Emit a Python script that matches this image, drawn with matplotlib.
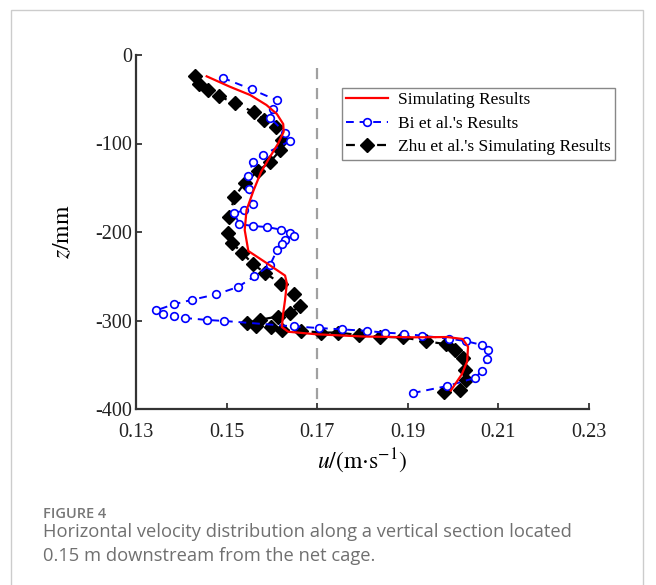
import matplotlib
matplotlib.use("Agg")
import matplotlib.pyplot as plt
from matplotlib.patches import Rectangle

# ---------------- data ----------------
sim_u = [0.1456, 0.1507, 0.1552, 0.1588, 0.1611, 0.1625, 0.1626, 0.1614, 0.1596, 0.1576,
         0.1559, 0.1544, 0.1540, 0.1548, 0.1588, 0.1611, 0.1629, 0.1633, 0.1629, 0.1625,
         0.1622, 0.1636, 0.1699, 0.1802, 0.1913, 0.1987, 0.2021, 0.2033, 0.2031, 0.2019, 0.1995]
sim_z = [-24.1, -35.8, -45.2, -56.5, -66.7, -78.0, -86.7, -99.8, -114.9, -132.2,
         -153.7, -175.2, -197.8, -221.5, -235.0, -243.0, -249.2, -258.0, -276.9, -291.5,
         -307.4, -312.7, -315.6, -318.1, -319.0, -318.7, -320.9, -329.6, -346.3, -361.0, -379.1]

bi_u = [0.1491, 0.1555, 0.1611, 0.1602, 0.1596, 0.1629, 0.1641, 0.1581, 0.1558, 0.1548,
        0.1550, 0.1558, 0.1539, 0.1517, 0.1528, 0.1558, 0.1589, 0.1621, 0.1640, 0.1648,
        0.1630, 0.1622, 0.1611, 0.1596, 0.1561, 0.1525, 0.1477, 0.1424, 0.1383, 0.1345,
        0.1360, 0.1383, 0.1409, 0.1457, 0.1494, 0.1649, 0.1704, 0.1754, 0.1809, 0.1850,
        0.1891, 0.1931, 0.1990, 0.2029, 0.2064, 0.2076, 0.2074, 0.2063, 0.2049, 0.1987, 0.1912]
bi_z = [-25.7, -38.8, -51.2, -61.4, -70.9, -87.8, -96.8, -112.7, -120.9, -136.4,
        -151.8, -168.4, -175.2, -178.9, -191.0, -193.2, -194.4, -197.4, -200.6, -204.5,
        -208.7, -213.0, -220.7, -237.3, -250.2, -262.2, -270.4, -276.6, -281.7, -288.5,
        -293.2, -294.9, -297.2, -299.4, -300.5, -306.7, -308.5, -310.0, -311.7, -313.8,
        -314.8, -317.2, -320.4, -323.4, -327.7, -333.0, -343.9, -356.9, -364.8, -374.0, -381.9]

zhu_u = [0.1431, 0.1440, 0.1459, 0.1483, 0.1518, 0.1560, 0.1583, 0.1609, 0.1622, 0.1618,
         0.1596, 0.1569, 0.1540, 0.1517, 0.1506, 0.1504, 0.1513, 0.1535, 0.1558, 0.1584,
         0.1621, 0.1649, 0.1662, 0.1641, 0.1613, 0.1574, 0.1544, 0.1565, 0.1597, 0.1622,
         0.1664, 0.1708, 0.1745, 0.1792, 0.1838, 0.1889, 0.1941, 0.1985, 0.2005, 0.2022,
         0.2027, 0.2029, 0.2016, 0.1979]
zhu_z = [-24.1, -32.4, -39.9, -46.3, -54.6, -64.4, -73.1, -81.9, -96.0, -107.9,
         -120.7, -131.1, -144.6, -160.7, -182.7, -200.6, -212.8, -224.1, -236.0, -246.0,
         -258.8, -270.1, -283.1, -291.9, -295.5, -299.1, -302.5, -306.2, -307.4, -310.8,
         -311.7, -313.6, -313.6, -316.4, -318.3, -319.2, -323.5, -326.8, -333.4, -342.7,
         -355.6, -367.6, -378.2, -380.5]

ref_u = 0.17
ref_z = [-15, -400]

x_ticks = [0.13, 0.15, 0.17, 0.19, 0.21, 0.23]
y_ticks = [0, -100, -200, -300, -400]

labels = ["Simulating Results", "Bi et al.'s Results", "Zhu et al.'s Simulating Results"]
caption_head = "FIGURE 4"
caption_lines = ["Horizontal velocity distribution along a vertical section located",
                 "0.15 m downstream from the net cage."]

# ---------------- style ----------------
plt.rcParams['axes.unicode_minus'] = False
plt.rcParams['mathtext.fontset'] = 'stix'
serif = ['Liberation Serif', 'DejaVu Serif']
sans = ['Open Sans', 'DejaVu Sans']

fig = plt.figure(figsize=(6.56, 5.85), dpi=100)
fig.patch.set_facecolor('white')

# outer frame of the figure panel
fig.patches.append(Rectangle((11 / 656, -0.05), (643 - 11) / 656, 1.05 - 10 / 585,
                             transform=fig.transFigure, fill=False,
                             edgecolor='#cccccc', linewidth=1.0))

ax = fig.add_axes([136 / 656, 1 - 409 / 585, (589 - 136) / 656, (409 - 55) / 585])

ax.plot([ref_u, ref_u], ref_z, color='#a0a0a0', linestyle=(0, (5, 4)), linewidth=1.6, zorder=1)

ax.plot(zhu_u, zhu_z, color='black', linestyle=(0, (4, 3)), linewidth=1.6,
        marker='D', markersize=7.5, markerfacecolor='black', markeredgecolor='black',
        label=labels[2], zorder=2)
ax.plot(bi_u, bi_z, color='#0000ff', linestyle=(0, (4, 3)), linewidth=1.4,
        marker='o', markersize=5.5, markerfacecolor='white', markeredgecolor='#0000ff',
        markeredgewidth=1.2, label=labels[1], zorder=3)
ax.plot(sim_u, sim_z, color='#ff0000', linewidth=1.6, label=labels[0], zorder=4)

ax.set_xlim(0.13, 0.23)
ax.set_ylim(-400, 0)
ax.set_xticks(x_ticks)
ax.set_xticklabels([f"{v:.2f}" for v in x_ticks], fontfamily=serif, fontsize=14.5)
ax.set_yticks(y_ticks)
ax.set_yticklabels([str(v) for v in y_ticks], fontfamily=serif, fontsize=14.5)
ax.tick_params(direction='in', length=4, width=1.2, colors='#222222')
ax.tick_params(axis='x', pad=10)
ax.tick_params(axis='y', pad=3)
for s in ['top', 'right']:
    ax.spines[s].set_visible(False)
for s in ['left', 'bottom']:
    ax.spines[s].set_linewidth(1.6)
    ax.spines[s].set_color('#333333')

ax.set_xlabel(r'$u/(\mathrm{m{\cdot}s}^{-1})$', fontsize=17, labelpad=3)
ax.set_ylabel(r'$z/\mathrm{mm}$', fontsize=17, labelpad=15)

handles, labs = ax.get_legend_handles_labels()
order = [2, 1, 0]
leg = fig.legend([handles[i] for i in order], [labs[i] for i in order],
                 loc='upper left', bbox_to_anchor=(342 / 656, 1 - 88 / 585),
                 prop={'family': serif, 'size': 12.5}, frameon=True, fancybox=False,
                 edgecolor='#888888', framealpha=1, borderpad=0.25, labelspacing=0.42,
                 handlelength=2.4, handletextpad=0.55, borderaxespad=0)
leg.get_frame().set_linewidth(1.0)

fig.text(43 / 656, 1 - 518 / 585, caption_head, fontfamily=sans,
         fontsize=10.5, color='#777777', fontweight='semibold', va='baseline')
fig.text(43 / 656, 1 - 537 / 585, caption_lines[0], fontfamily=sans,
         fontsize=13.2, color='#707070', va='baseline')
fig.text(43 / 656, 1 - 561 / 585, caption_lines[1], fontfamily=sans,
         fontsize=13.2, color='#707070', va='baseline')

fig.savefig('out.png', dpi=100, facecolor='white')
